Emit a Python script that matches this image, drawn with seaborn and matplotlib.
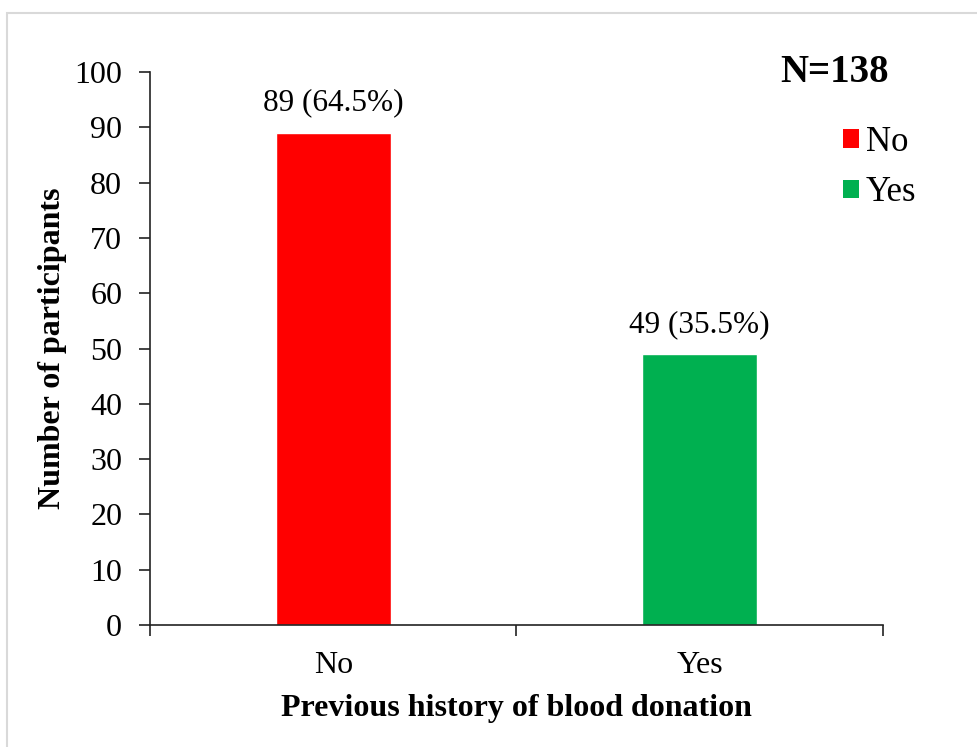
import matplotlib
matplotlib.use("Agg")
import matplotlib.pyplot as plt
import matplotlib.patches as mpatches
import seaborn as sns
import pandas as pd

# Data
categories = ["No", "Yes"]
counts = [89, 49]
percents = [64.5, 35.5]
total_n = 138
bar_colors = ["#FF0000", "#00B050"]
y_ticks = [0, 10, 20, 30, 40, 50, 60, 70, 80, 90, 100]

sns.set_theme(style="white")
plt.rcParams["font.family"] = ["Liberation Serif", "DejaVu Serif"]
plt.rcParams["text.color"] = "black"
plt.rcParams["axes.labelcolor"] = "black"
plt.rcParams["xtick.color"] = "black"
plt.rcParams["ytick.color"] = "black"

df = pd.DataFrame({"history": categories, "count": counts})

fig = plt.figure(figsize=(9.78, 7.47), dpi=100)
ax = fig.add_axes([150 / 978, 1 - 625 / 747, (883 - 150) / 978, (625 - 72) / 747])

sns.barplot(data=df, x="history", y="count", hue="history",
            palette=bar_colors, width=0.314, saturation=1,
            legend=False, ax=ax)

# Value labels above bars
for cont, c, p in zip(ax.containers, counts, percents):
    ax.bar_label(cont, labels=[f"{c} ({p}%)"], padding=11, fontsize=22.5,
                 color="black")

# Axes limits and ticks
ax.set_ylim(0, 100)
ax.set_xlim(-0.5, 1.5)
ax.set_yticks(y_ticks)
ax.set_xticks([-0.5, 0.5, 1.5])
ax.set_xticklabels([])
ax.set_xticks([0, 1], minor=True)
ax.set_xticklabels(categories, minor=True)

ax.tick_params(axis="y", which="major", direction="out", length=8, width=1.2,
               color="#222222", labelsize=23, pad=12, left=True)
ax.tick_params(axis="x", which="major", direction="out", length=8, width=1.2,
               color="#222222", bottom=True)
ax.tick_params(axis="x", which="minor", length=0, labelsize=23, pad=19, bottom=True)

for side in ["top", "right"]:
    ax.spines[side].set_visible(False)
for side in ["left", "bottom"]:
    ax.spines[side].set_color("#222222")
    ax.spines[side].set_linewidth(1.2)

ax.set_xlabel("Previous history of blood donation", fontsize=23,
              fontweight="bold", labelpad=10)
ax.set_ylabel("Number of participants", fontsize=23, fontweight="bold",
              labelpad=5)

# Legend
handles = [mpatches.Patch(facecolor=col, edgecolor="none", label=cat)
           for col, cat in zip(bar_colors, categories)]
fig.legend(handles=handles, loc="upper left",
           bbox_to_anchor=(843 / 978, 1 - 126 / 747), frameon=False,
           fontsize=25, handlelength=0.45, handleheight=0.45,
           handletextpad=0.2, labelspacing=0.5, borderaxespad=0,
           borderpad=0)

# Sample size
fig.text(835 / 978, 1 - 73 / 747, f"N={total_n}", fontsize=28,
         fontweight="bold", ha="center", va="center")

# Light frame around the chart area
frame = mpatches.Rectangle((7.5 / 978, -0.05), 1.2, 1 - 12.5 / 747 + 0.05,
                           transform=fig.transFigure, fill=False,
                           edgecolor="#D9D9D9", linewidth=1.5)
fig.patches.append(frame)

fig.savefig("out.png", dpi=100)
